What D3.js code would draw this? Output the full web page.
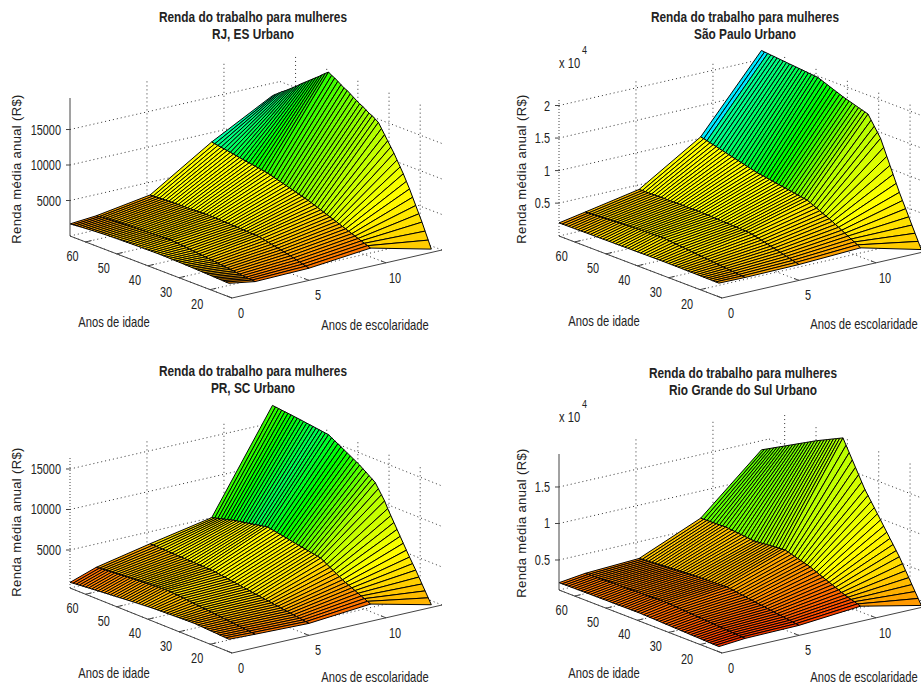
<!DOCTYPE html>
<html>
<head>
<meta charset="utf-8">
<script src="https://cdn.jsdelivr.net/npm/d3@7"></script>
<style>
  body { margin: 0; background: #fff; overflow: hidden; }
  text { font-family: "Liberation Sans", Arial, sans-serif; fill: #222; }
</style>
</head>
<body>
<svg width="921" height="686"></svg>
<script>
// Mesh coordinates
var ages = [14,15,16,17,18,19,20,21,22,23,24,25,26,27,28,29,30,31,32,33,34,35,36,37,38,39,
  40,41,42,43,44,45,46,47,48,49,50,51,52,53,54,55,56,57,58,59,60,61,62,63,64,65];
var schooling = [0, 1.7, 5.2, 9.2, 13.15];

var ageTicks = [20, 30, 40, 50, 60];
var schoolTicks = [0, 5, 10];

// Hue of each band between two schooling columns, read at these ages
var hueAges = [14, 20, 30, 40, 50, 62, 63, 65];

// RJ, ES
var rjRows = [
  [1900,1920,1940,1960,1980,2000,2020,2040,2060,2080,2100,2120,2130,2150,2160,2180,2190,2200,2210,2220,2240,2250,2250,2250,2250,2240,2240,2230,2230,2220,2210,2200,2190,2180,2170,2160,2150,2130,2120,2100,2080,2050,2020,2000,1970,1940,1900,1870,1830,1790,1750,1700],
  [1300,1340,1370,1400,1460,1510,1570,1620,1680,1730,1780,1830,1880,1930,1980,2030,2080,2130,2180,2230,2280,2330,2380,2430,2470,2520,2560,2600,2590,2580,2570,2550,2530,2510,2490,2470,2450,2430,2410,2390,2370,2350,2320,2300,2270,2240,2210,2180,2140,2100,2050,2000],
  [1450,1570,1690,1810,1930,2050,2170,2290,2400,2500,2600,2700,2800,2900,3000,3100,3200,3220,3240,3260,3280,3300,3320,3340,3360,3380,3400,3420,3440,3460,3480,3500,3490,3480,3470,3460,3450,3440,3430,3410,3400,3380,3370,3350,3340,3320,3300,3280,3260,3240,3220,3200],
  [2300,2470,2640,2810,2980,3150,3320,3490,3660,3830,4000,4170,4340,4500,4660,4830,4990,5160,5320,5490,5650,5780,5900,6030,6160,6290,6410,6540,6670,6800,6920,7050,7180,7300,7380,7450,7530,7600,7680,7750,7830,7900,7980,8060,8140,8220,8300,8370,8440,8520,8600,8680],
  [200,1300,2400,3500,4500,5500,6500,7500,8400,9300,10100,10900,11700,12400,13100,13800,14500,15200,15500,15800,16000,16300,16600,16800,17100,17400,17700,18000,18200,18500,18800,19100,19300,19600,19250,18900,18500,18150,17800,17450,17100,16750,16400,16000,15650,15300,14950,14600,14300,13950,13600,13250]
];
var rjHues = [
  [34,42,50,50,46,36,34,30],
  [28,38,50,52,50,42,40,38],
  [28,40,52,58,60,60,60,58],
  [48,58,78,95,118,150,152,165]
];

// Sao Paulo
var spRows = [
  [2050,2060,2060,2070,2070,2080,2090,2090,2100,2100,2110,2110,2120,2120,2130,2130,2130,2130,2130,2130,2130,2120,2120,2110,2110,2100,2100,2090,2090,2080,2080,2070,2070,2060,2060,2050,2050,2040,2040,2030,2030,2020,2020,2010,2010,2000,2000,1990,1980,1980,1970,1960],
  [2000,2040,2090,2140,2190,2240,2290,2340,2390,2440,2490,2540,2590,2640,2690,2740,2790,2840,2890,2940,2990,3040,3090,3140,3190,3230,3270,3300,3290,3270,3250,3230,3200,3180,3160,3130,3110,3090,3060,3040,3020,2990,2960,2940,2910,2890,2860,2830,2800,2770,2740,2710],
  [2100,2230,2360,2490,2620,2750,2880,3010,3140,3260,3390,3520,3640,3770,3890,4000,4100,4120,4140,4160,4180,4200,4220,4240,4260,4280,4300,4320,4340,4360,4380,4400,4400,4400,4400,4400,4390,4390,4380,4380,4370,4370,4360,4360,4350,4340,4340,4330,4320,4310,4300,4290],
  [2500,2770,3030,3300,3570,3830,4100,4370,4630,4900,5130,5350,5580,5800,6030,6250,6480,6700,6780,6860,6940,7030,7110,7190,7270,7350,7430,7510,7590,7680,7760,7840,7920,8000,8120,8250,8370,8490,8620,8740,8860,8990,9110,9240,9360,9480,9610,9730,9850,9980,10100,10200],
  [100,1170,2240,3310,4390,5460,6530,7600,8800,10000,11200,12400,13600,14800,15550,16300,17050,17800,17950,18100,18250,18400,18550,18700,18850,19000,19190,19380,19560,19750,19940,20130,20310,20500,20550,20590,20640,20690,20740,20780,20830,20880,20920,20970,21020,21060,21110,21160,21200,21250,21300,21350]
];
var spHues = [
  [38,44,52,54,52,42,40,36],
  [40,47,54,57,54,48,46,44],
  [38,48,56,60,60,60,60,60],
  [48,58,78,115,135,155,185,185]
];

// PR, SC
var prRows = [
  [1850,1880,1900,1920,1950,1970,1990,2010,2040,2060,2080,2100,2090,2080,2070,2060,2040,2030,2010,2000,1980,1970,1950,1940,1920,1900,1870,1840,1810,1780,1750,1720,1680,1650,1620,1580,1550,1510,1480,1450,1410,1380,1340,1310,1270,1240,1200,1170,1130,1090,1050,1000],
  [1730,1770,1810,1850,1890,1930,1970,2010,2050,2090,2120,2160,2200,2240,2280,2320,2360,2390,2430,2470,2510,2550,2590,2630,2670,2700,2740,2770,2800,2780,2750,2730,2700,2670,2650,2620,2600,2570,2540,2520,2490,2460,2430,2400,2370,2340,2310,2280,2240,2200,2160,2120],
  [1550,1610,1660,1720,1770,1830,1890,1950,2000,2060,2120,2170,2230,2290,2340,2400,2460,2510,2570,2630,2690,2740,2800,2860,2920,2970,3030,3090,3140,3200,3250,3300,3310,3320,3330,3340,3350,3360,3370,3380,3390,3400,3410,3420,3430,3450,3460,3470,3480,3490,3500,3510],
  [2200,2380,2560,2730,2910,3090,3270,3440,3620,3800,4030,4260,4490,4710,4940,5170,5400,5470,5540,5610,5680,5750,5820,5890,5960,6030,6110,6180,6250,6320,6390,6460,6530,6600,6520,6450,6370,6290,6210,6140,6060,5980,5900,5830,5750,5640,5530,5430,5320,5210,5100,4990],
  [400,1100,1800,2500,3200,3900,4550,5200,5900,6600,7300,8000,8700,9400,10100,10900,11500,12100,12700,13000,13250,13550,13800,14100,14320,14540,14760,14980,15200,15420,15640,15860,16080,16300,16350,16400,16450,16500,16550,16600,16650,16700,16750,16800,16840,16890,16930,16970,17010,17060,17100,17140]
];
var prHues = [
  [30,36,44,44,38,28,26,22],
  [28,38,50,52,48,42,40,38],
  [26,38,54,58,58,55,54,52],
  [42,55,78,115,140,112,110,105]
];

// Rio Grande do Sul
var rsRows = [
  [1600,1620,1630,1650,1660,1680,1700,1710,1730,1740,1760,1780,1790,1810,1820,1840,1860,1870,1890,1900,1920,1940,1950,1970,1980,2000,2000,2000,1990,1990,1990,1980,1980,1980,1970,1970,1970,1960,1960,1960,1950,1950,1950,1940,1940,1930,1930,1920,1920,1910,1900,1890],
  [1900,1930,1960,1990,2020,2050,2080,2110,2140,2170,2200,2230,2260,2290,2320,2350,2380,2410,2440,2470,2500,2530,2560,2590,2620,2650,2640,2630,2620,2610,2600,2590,2580,2570,2560,2550,2540,2530,2520,2510,2500,2490,2480,2470,2460,2450,2430,2420,2400,2390,2370,2350],
  [2000,2060,2130,2190,2250,2320,2380,2440,2510,2570,2630,2700,2760,2820,2880,2950,3010,3070,3140,3200,3260,3330,3390,3450,3430,3410,3390,3370,3350,3330,3310,3290,3270,3250,3230,3220,3200,3170,3130,3100,3070,3030,3000,2970,2930,2900,2870,2830,2800,2770,2740,2700],
  [2700,2840,2980,3120,3260,3400,3580,3760,3950,4130,4310,4490,4670,4850,5040,5220,5400,5530,5650,5780,5900,6030,6150,6280,6400,6360,6320,6280,6240,6200,6160,6120,6080,6040,6000,6040,6090,6130,6180,6220,6270,6310,6360,6400,6390,6370,6360,6340,6330,6310,6300,6290],
  [900,1690,2470,3260,4040,4830,5610,6400,7080,7750,8420,9100,9770,10450,11120,11800,12470,13140,13800,14640,15480,16330,17170,18010,18860,19700,19490,19280,19070,18860,18640,18430,18220,18010,17790,17550,17310,17070,16840,16600,16360,16120,15890,15650,15410,15170,14940,14700,14460,14220,13990,13750]
];
var rsHues = [
  [12,18,24,26,28,28,28,28],
  [14,20,28,30,30,32,32,32],
  [16,25,35,42,45,46,46,46],
  [36,52,66,80,92,98,98,100]
];

// One entry per subplot: where its box sits and what it shows
var panels = [
  { title: "RJ, ES Urbano", rows: rjRows, hues: rjHues,
    origin: [232, 298], xEnd: [442, 250], yEnd: [70, 236], height: 138, zLim: [0, 19440],
    zTicks: [5000, 10000, 15000], zLabels: ["5000", "10000", "15000"], zDash: null,
    titleX: 253, titleY: 22, zLabelX: 21, zLabelY: 169, ageLabel: [114, 327], schoolLabel: [375, 330] },
  { title: "São Paulo Urbano", rows: spRows, hues: spHues,
    origin: [722, 298], xEnd: [932, 250], yEnd: [559, 236], height: 137, zLim: [-50, 21000],
    zTicks: [5000, 10000, 15000, 20000], zLabels: ["0.5", "1", "1.5", "2"], zDash: "1,2",
    titleX: 745, titleY: 22, zLabelX: 526, zLabelY: 169, ageLabel: [604, 326], schoolLabel: [864, 329],
    scaleNote: [559, 68] },
  { title: "PR, SC Urbano", rows: prRows, hues: prHues,
    origin: [232, 653], xEnd: [442, 605], yEnd: [70, 588], height: 131, zLim: [310, 16480],
    zTicks: [5000, 10000, 15000], zLabels: ["5000", "10000", "15000"], zDash: "1,2",
    titleX: 253, titleY: 376, zLabelX: 21, zLabelY: 522, ageLabel: [114, 678], schoolLabel: [375, 682] },
  { title: "Rio Grande do Sul Urbano", rows: rsRows, hues: rsHues,
    origin: [722, 653], xEnd: [932, 605], yEnd: [559, 590], height: 136, zLim: [890, 19520],
    zTicks: [5000, 10000, 15000], zLabels: ["0.5", "1", "1.5"], zDash: null,
    titleX: 743, titleY: 378, zLabelX: 526, zLabelY: 523, ageLabel: [604, 678], schoolLabel: [864, 682],
    scaleNote: [559, 422] }
];

var svg = d3.select("svg");

// Axis limits shared by the subplots
var schoolScale = d3.scaleLinear().domain([0, 13.64]).range([0, 1]);
var ageScale = d3.scaleLinear().domain([13, 65]).range([0, 1]);

panels.forEach(drawPanel);

function drawPanel(p) {
  var zScale = d3.scaleLinear().domain(p.zLim).range([0, p.height]);

  // fixed 3D view: walk along the two floor edges, then up
  var project = function (school, age, z) {
    var s = schoolScale(school), a = ageScale(age);
    return [
      p.origin[0] + s * (p.xEnd[0] - p.origin[0]) + a * (p.yEnd[0] - p.origin[0]),
      p.origin[1] + s * (p.xEnd[1] - p.origin[1]) + a * (p.yEnd[1] - p.origin[1]) - zScale(z)
    ];
  };

  var zMin = p.zLim[0], zMax = p.zLim[1];
  var sMax = schoolScale.domain()[1], aMax = ageScale.domain()[1], aMin = ageScale.domain()[0];
  var g = svg.append("g");

  var segment = function (a, b, cls) {
    g.append("line").attr("class", cls)
      .attr("x1", a[0]).attr("y1", a[1]).attr("x2", b[0]).attr("y2", b[1]);
  };

  // narrowed text, the original font is a condensed one
  var label = function (x, y, str, size, anchor, squeeze) {
    return g.append("text")
      .attr("transform", "translate(" + x + "," + y + ") scale(" + squeeze + ",1)")
      .attr("text-anchor", anchor)
      .attr("font-size", size)
      .text(str);
  };

  // dotted grid on the floor and the two back walls
  p.zTicks.forEach(function (z) {
    segment(project(0, aMax, z), project(sMax, aMax, z), "grid");
    segment(project(sMax, aMax, z), project(sMax, aMin, z), "grid");
  });
  schoolTicks.forEach(function (s) {
    if (s > 0) segment(project(s, aMax, zMin), project(s, aMax, zMax), "grid");
    segment(project(s, aMin, zMin), project(s, aMax, zMin), "grid");
  });
  ageTicks.forEach(function (a) {
    segment(project(sMax, a, zMin), project(sMax, a, zMax), "grid");
    segment(project(0, a, zMin), project(sMax, a, zMin), "grid");
  });
  segment(project(0, aMax, zMin), project(sMax, aMax, zMin), "grid");
  segment(project(sMax, aMin, zMin), project(sMax, aMax, zMin), "grid");
  g.selectAll("line.grid")
    .attr("stroke", "#333").attr("stroke-width", 1).attr("stroke-dasharray", "1,3");

  // surface faces, far ones first
  var hueScales = p.hues.map(function (h) {
    return d3.scaleLinear().domain(hueAges).range(h);
  });
  var faces = [];
  for (var i = ages.length - 2; i >= 0; i--) {
    for (var j = schooling.length - 2; j >= 0; j--) {
      faces.push({
        pts: [
          project(schooling[j], ages[i], p.rows[j][i]),
          project(schooling[j + 1], ages[i], p.rows[j + 1][i]),
          project(schooling[j + 1], ages[i + 1], p.rows[j + 1][i + 1]),
          project(schooling[j], ages[i + 1], p.rows[j][i + 1])
        ],
        hue: hueScales[j](ages[i])
      });
    }
  }
  g.append("g")
    .selectAll("path")
    .data(faces)
    .enter()
    .append("path")
    .attr("d", function (d) { return d3.line()(d.pts) + "Z"; })
    .attr("fill", function (d) { return d3.hsl(d.hue, 1, 0.5); })
    .attr("stroke", "#000")
    .attr("stroke-width", 1);

  // axis lines and ticks
  segment(project(0, aMin, zMin), project(sMax, aMin, zMin), "axis");
  segment(project(0, aMin, zMin), project(0, aMax, zMin), "axis");
  segment(project(0, aMax, zMin), project(0, aMax, zMax), "axis" + (p.zDash ? " zdash" : ""));
  schoolTicks.forEach(function (s) {
    var a = project(s, aMin, zMin);
    segment(a, [a[0] - 5, a[1] - 2], "axis");
    label(a[0] + 9, a[1] + 20, s, 14, "middle", 0.78);
  });
  ageTicks.forEach(function (t) {
    var a = project(0, t, zMin);
    segment(a, [a[0] + 6, a[1] - 1.4], "axis");
    label(a[0] - 13, a[1] + 19, t, 14, "middle", 0.78);
  });
  p.zTicks.forEach(function (z, k) {
    var a = project(0, aMax, z);
    segment(a, [a[0] - 4, a[1]], "axis");
    label(a[0] - 9, a[1] + 5, p.zLabels[k], 14, "end", 0.78);
  });
  g.selectAll("line.axis").attr("stroke", "#444").attr("stroke-width", 1);
  g.selectAll("line.zdash").attr("stroke-dasharray", p.zDash);

  // titles and axis names
  label(p.titleX, p.titleY, "Renda do trabalho para mulheres", 15, "middle", 0.79)
    .attr("font-weight", "bold");
  label(p.titleX, p.titleY + 17, p.title, 15, "middle", 0.79)
    .attr("font-weight", "bold");
  g.append("text")
    .attr("transform", "translate(" + p.zLabelX + "," + p.zLabelY + ") rotate(-90)")
    .attr("text-anchor", "middle").attr("font-size", 13).attr("letter-spacing", 0.35)
    .text("Renda média anual (R$)");
  label(p.ageLabel[0], p.ageLabel[1], "Anos de idade", 14, "middle", 0.8);
  label(p.schoolLabel[0], p.schoolLabel[1], "Anos de escolaridade", 14, "middle", 0.8);

  if (p.scaleNote) {
    label(p.scaleNote[0], p.scaleNote[1], "x 10", 14, "start", 0.8);
    label(p.scaleNote[0] + 23, p.scaleNote[1] - 14, "4", 10, "start", 0.9);
  }
}
</script>
</body>
</html>
